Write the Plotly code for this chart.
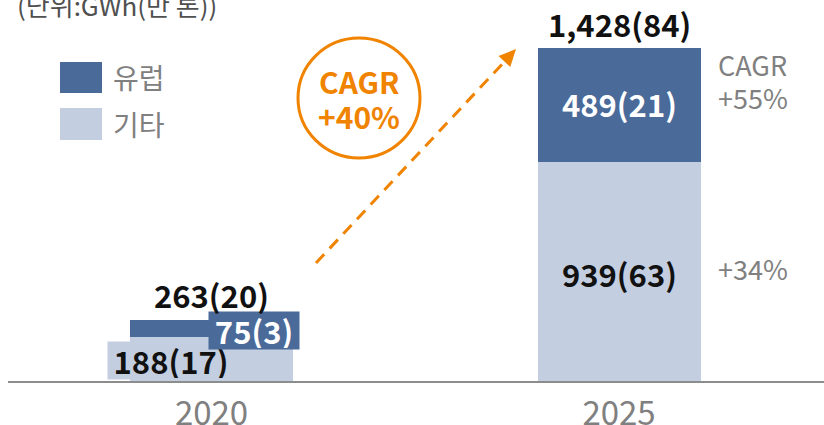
import math
import plotly.graph_objects as go

# ---- data ----
years = ["2020", "2025"]
europe = [75, 489]
europe_tons = [3, 21]
other = [188, 939]
other_tons = [17, 63]
totals = [263, 1428]
total_tons = [20, 84]
series_names = ["유럽", "기타"]
title_text = "(단위:GWh(만 톤))"
cagr_total = ["CAGR", "+40%"]
cagr_europe = ["CAGR", "+55%"]
cagr_other = "+34%"

DARK = "#4A6A9A"
LIGHT = "#C3CEE1"
ORANGE = "#F08300"
GRAY = "#808080"
FONT = "Noto Sans CJK KR"

W, H = 824, 425
ML, MR, MT, MB = 8, 0, 0, 44
PW, PH = W - ML - MR, H - MT - MB


def px(x):
    return (x - ML) / PW


def py(y):
    return 1 - (y - MT) / PH


fig = go.Figure()
fig.add_trace(go.Bar(x=years, y=other, name=series_names[1], marker_color=LIGHT,
                     width=0.4, marker_line_width=0, hoverinfo="skip"))
fig.add_trace(go.Bar(x=years, y=europe, name=series_names[0], marker_color=DARK,
                     width=0.4, marker_line_width=0, hoverinfo="skip"))

LS = 31
ann = []
# 2020 labels (offset boxes)
ann.append(dict(x=0, y=other[0] / 2, xref="x", yref="y",
                text=f"<b>{other[0]}({other_tons[0]})</b>", showarrow=False,
                xanchor="center", yanchor="middle",
                xshift=-41, yshift=-1, bgcolor=LIGHT, width=124, height=35,
                font=dict(family=FONT, size=LS, color="#111111")))
ann.append(dict(x=0, y=other[0] + europe[0] / 2, xref="x", yref="y",
                text=f"<b>{europe[0]}({europe_tons[0]})</b>", showarrow=False,
                xanchor="center", yanchor="middle",
                xshift=42, yshift=-2, bgcolor=DARK, width=88, height=35,
                font=dict(family=FONT, size=LS, color="white")))
# 2025 labels
ann.append(dict(x=1, y=other[1] / 2, xref="x", yref="y",
                text=f"<b>{other[1]}({other_tons[1]})</b>", showarrow=False,
                xanchor="center", yanchor="middle",
                yshift=-2, font=dict(family=FONT, size=LS, color="#111111")))
ann.append(dict(x=1, y=other[1] + europe[1] / 2, xref="x", yref="y",
                text=f"<b>{europe[1]}({europe_tons[1]})</b>", showarrow=False,
                xanchor="center", yanchor="middle",
                yshift=2, font=dict(family=FONT, size=LS, color="white")))
# totals
for i in range(2):
    ann.append(dict(x=i, y=totals[i], xref="x", yref="y",
                    text=f"<b>{totals[i]:,}({total_tons[i]})</b>", showarrow=False,
                    xanchor="center", yanchor="middle", yshift=25,
                    font=dict(family=FONT, size=LS, color="#111111")))
# title
ann.append(dict(x=px(15), y=py(4), xref="paper", yref="paper", xanchor="left",
                yanchor="middle", text=title_text, showarrow=False,
                font=dict(family=FONT, size=26, color="#505050")))
# legend text
for name, yy in zip(series_names, [77, 124]):
    ann.append(dict(x=px(111), y=py(yy), xref="paper", yref="paper", xanchor="left",
                    yanchor="middle", text=name, showarrow=False,
                    font=dict(family=FONT, size=28, color=GRAY)))
# CAGR circle text
for t, yy in zip(cagr_total, [81, 116]):
    ann.append(dict(x=px(359), y=py(yy), xref="paper", yref="paper",
                    xanchor="center", yanchor="middle",
                    text=f"<b>{t}</b>", showarrow=False,
                    font=dict(family=FONT, size=30, color=ORANGE)))
# right texts
for t, yy in zip(cagr_europe, [64, 97]):
    ann.append(dict(x=px(716), y=py(yy), xref="paper", yref="paper", xanchor="left",
                    yanchor="middle", text=t, showarrow=False,
                    font=dict(family=FONT, size=27, color=GRAY)))
ann.append(dict(x=px(716), y=py(268), xref="paper", yref="paper", xanchor="left",
                yanchor="middle", text=cagr_other, showarrow=False,
                font=dict(family=FONT, size=27, color=GRAY)))

shapes = []
# legend squares
shapes.append(dict(type="rect", xref="paper", yref="paper", x0=px(60), x1=px(102),
                   y0=py(62), y1=py(93), fillcolor=DARK, line_width=0))
shapes.append(dict(type="rect", xref="paper", yref="paper", x0=px(60), x1=px(102),
                   y0=py(108), y1=py(140), fillcolor=LIGHT, line_width=0))
# circle
shapes.append(dict(type="circle", xref="paper", yref="paper", x0=px(298), x1=px(420),
                   y0=py(38), y1=py(158), line=dict(color=ORANGE, width=3)))
# dashed arrow line
x0a, y0a, x1a, y1a = 316, 263, 506, 60
shapes.append(dict(type="line", xref="paper", yref="paper", x0=px(x0a), y0=py(y0a),
                   x1=px(x1a), y1=py(y1a),
                   line=dict(color=ORANGE, width=3, dash="12px,8px")))
# arrow head (triangle)
tx, ty = 516, 49
dx, dy = tx - x0a, ty - y0a
L = math.hypot(dx, dy)
ux, uy = dx / L, dy / L
nx, ny = -uy, ux
hl, hw = 17, 8
bx, by = tx - ux * hl, ty - uy * hl
pts = [(tx, ty), (bx + nx * hw, by + ny * hw), (bx - nx * hw, by - ny * hw)]
path = "M " + " L ".join(f"{px(a)},{py(b)}" for a, b in pts) + " Z"
shapes.append(dict(type="path", xref="paper", yref="paper", path=path,
                   fillcolor=ORANGE, line_width=0))

fig.update_layout(
    barmode="stack",
    width=W, height=H,
    margin=dict(l=ML, r=MR, t=MT, b=MB),
    paper_bgcolor="white", plot_bgcolor="white",
    showlegend=False,
    annotations=ann,
    shapes=shapes,
    xaxis=dict(type="category", range=[-0.4994, 1.503], showgrid=False,
               showline=True, linecolor="#8c8c8c", linewidth=2, ticks="",
               tickfont=dict(family=FONT, size=33, color=GRAY),
               ticklabelstandoff=2, automargin=False),
    yaxis=dict(range=[0, 1634], visible=False, showgrid=False, automargin=False),
)

fig.write_html("out.html", config={"displayModeBar": False},
               post_script="document.body.style.margin='0px';document.body.style.overflow='hidden';")
